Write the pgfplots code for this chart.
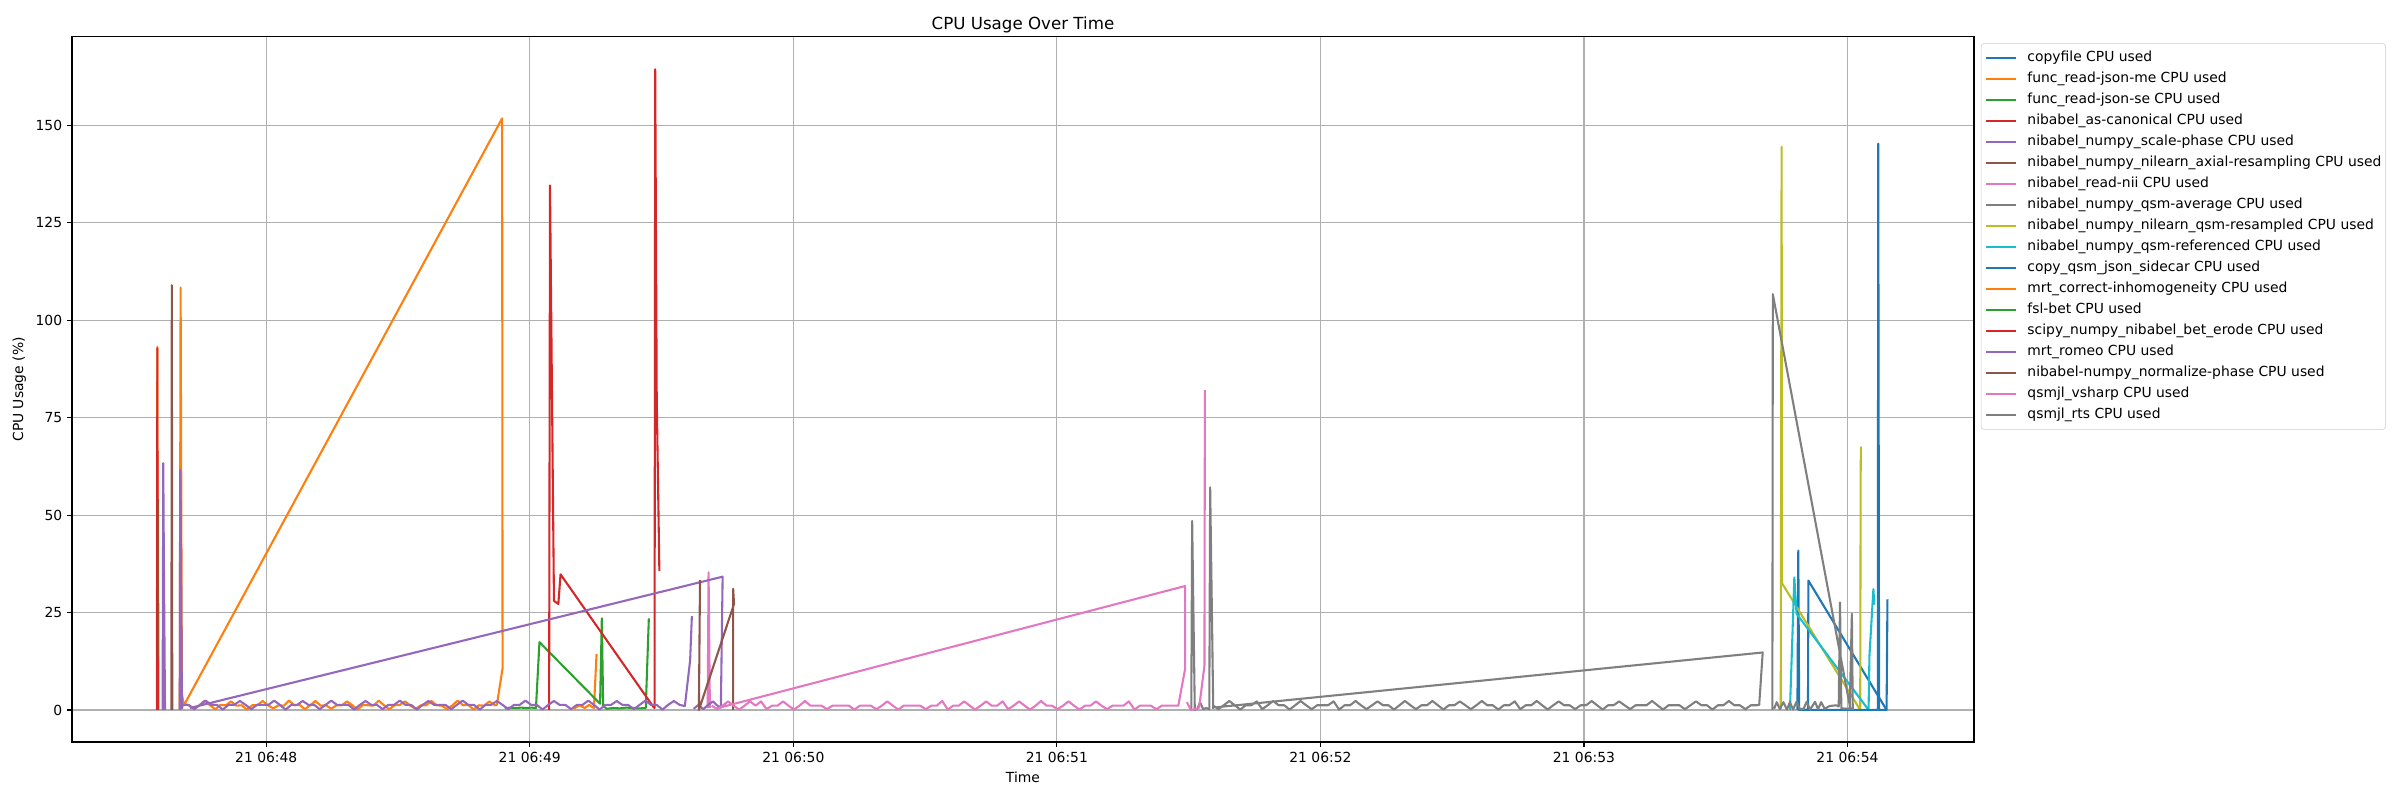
\documentclass[border=0pt]{standalone}
\usepackage{fontspec}
\setmainfont{DejaVu Sans}
\usepackage{pgfplots}
\pgfplotsset{compat=1.18}

\definecolor{C0}{HTML}{1F77B4}
\definecolor{C1}{HTML}{FF7F0E}
\definecolor{C2}{HTML}{2CA02C}
\definecolor{C3}{HTML}{D62728}
\definecolor{C4}{HTML}{9467BD}
\definecolor{C5}{HTML}{8C564B}
\definecolor{C6}{HTML}{E377C2}
\definecolor{C7}{HTML}{7F7F7F}
\definecolor{C8}{HTML}{BCBD22}
\definecolor{C9}{HTML}{17BECF}
\definecolor{gridgray}{HTML}{B0B0B0}
\definecolor{legendgray}{HTML}{CCCCCC}

\begin{document}
\begin{tikzpicture}
\path[use as bounding box] (-51.8pt,-41.5pt) rectangle (1676.1pt,534.2pt);
\begin{axis}[
    at={(0,0)}, anchor=south west,
    scale only axis, width=1369.4pt, height=507.6pt,
    xmin=15.76, xmax=448.8, ymin=-8.22, ymax=172.7,
    xtick={60,120,180,240,300,360,420},
    xticklabels={21 06:48,21 06:49,21 06:50,21 06:51,21 06:52,21 06:53,21 06:54},
    ytick={0,25,50,75,100,125,150},
    grid=major,
    major grid style={color=gridgray, line width=0.8pt},
    axis line style={line width=0.8pt},
    tick align=outside, xtick pos=left, ytick pos=left,
    major tick length=3.5pt,
    tick style={black, line width=0.8pt},
    tick label style={font=\fontsize{10}{12}\selectfont},
    /pgf/number format/assume math mode=true,
    title={CPU Usage Over Time},
    title style={font=\fontsize{12}{14}\selectfont, yshift=-6.5pt},
    xlabel={Time}, ylabel={CPU Usage (\%)},
    label style={font=\fontsize{10}{12}\selectfont},
    unbounded coords=jump,
    every axis plot/.append style={line width=1.5pt, line join=round},
    legend style={at={(1,1)}, anchor=north west, xshift=5pt, yshift=-4.6pt,
        draw=legendgray, rounded corners=2pt, fill=white,
        font=\fontsize{10}{12}\selectfont, inner xsep=3pt, inner ysep=5.5pt,
        row sep=5.1pt, column sep=7.2pt,
        nodes={inner sep=0pt, text height=7.5pt, text depth=2.5pt}},
    legend cell align=left,
    legend image code/.code={\draw[#1, line width=1.5pt] (0pt,0pt) -- (21.6pt,0pt);},
]
% copyfile
\addplot[C0] table[row sep=\\]{x y\\ 408.6 0\\ 408.8 40.9\\ 409.0 0\\ 411.0 0\\ 411.1 33.2\\ 428.9 0\\};
% func_read-json-me
\addplot[C1] table[row sep=\\]{x y\\ 35.1 0\\ 35.2 93.2\\ 35.3 0\\};
% func_read-json-se
\addplot[C2] table[row sep=\\]{x y\\ 35.2 0\\ 35.35 54\\ 35.45 0\\};
% nibabel_as-canonical
\addplot[C3] table[row sep=\\]{x y\\ 35.15 0\\ 35.2 92.8\\ 35.3 0\\};
% nibabel_numpy_scale-phase
\addplot[C4] table[row sep=\\]{x y\\ 36.4 0\\ 36.55 63.3\\ 36.7 37\\ 36.8 22\\ 36.95 0\\};
% nibabel_numpy_nilearn_axial-resampling
\addplot[C5] table[row sep=\\]{x y\\ 38.4 0\\ 38.5 109\\ 38.6 0\\};
% nibabel_read-nii
\addplot[C6] table[row sep=\\]{x y\\ 160.5 0.5\\ 160.7 35.3\\ 161.0 0.5\\};
% nibabel_numpy_qsm-average
\addplot[C7] table[row sep=\\]{x y\\ 270.6 0\\ 270.8 48.5\\ 271.4 0\\ 272.0 0.3\\ 272.6 2.0\\ 273.3 0.2\\ 274.0 0.5\\ 274.7 0.2\\ 274.9 57.1\\ 275.6 0.3\\};
% nibabel_numpy_nilearn_qsm-resampled
\addplot[C8] table[row sep=\\]{x y\\ 404.8 0\\ 405.0 144.5\\ 405.1 32.5\\ 422.9 0\\ 423.0 60\\ 423.05 67.6\\};
% nibabel_numpy_qsm-referenced
\addplot[C9] table[row sep=\\]{x y\\ 406.9 0\\ 407.9 34\\ 408.4 24.7\\ 424.8 0\\ 425.0 13.9\\ 425.9 31\\ 426.1 27\\};
% copy_qsm_json_sidecar
\addplot[C0] table[row sep=\\]{x y\\ 409.0 0\\ 426.9 0\\ 427.0 145.3\\ 427.2 0\\ 428.9 0\\ 429.1 28.4\\};
% mrt_correct-inhomogeneity
\addplot[C1] table[row sep=\\]{x y\\ 40.3 0\\ 40.5 108.4\\ 40.8 4.0\\
41.2 1.5\\ 42.4 1.2\\ 43.6 0.3\\ 44.8 1.2\\ 46.0 2.4\\ 47.2 1.2\\ 48.4 0.2\\ 49.6 1.3\\ 50.8 1.2\\ 52.0 2.2\\
53.2 1.1\\ 54.4 1.2\\ 55.6 0.1\\ 56.8 1.2\\ 58.0 1.3\\ 59.2 2.3\\ 60.4 1.2\\ 61.6 0.4\\ 62.8 1.2\\ 64.0 1.1\\
65.2 2.4\\ 66.4 1.2\\ 67.6 1.3\\ 68.8 0.2\\ 70.0 1.2\\ 71.2 2.3\\ 72.4 1.1\\ 73.6 1.2\\ 74.8 0.3\\ 76.0 1.2\\
77.2 1.2\\ 78.4 2.2\\ 79.6 1.2\\ 80.8 0.1\\ 82.0 1.3\\ 83.2 1.2\\ 84.4 1.1\\ 85.6 2.4\\ 86.8 1.2\\ 88.0 0.2\\
89.2 1.2\\ 90.4 1.3\\ 91.6 2.2\\ 92.8 1.1\\ 94.0 0.3\\ 95.2 1.2\\ 96.4 1.2\\ 97.6 2.3\\ 98.8 1.2\\ 100.0 1.1\\
101.2 0.2\\ 102.4 1.2\\ 103.6 2.4\\ 104.8 1.2\\ 106.0 1.3\\ 107.2 0.1\\ 108.4 1.2\\ 109.6 1.1\\ 110.8 2.2\\ 112.0 1.2\\
112.5 1.3\\ 113.8 10.7\\ 113.7 151.8\\ 41.5 1.7\\
nan nan\\ 130.0 0.3\\ 131.3 1.2\\ 132.5 0.5\\ 133.5 1.3\\ 134.6 0.5\\ 135.2 14.4\\};
% fsl-bet
\addplot[C2] table[row sep=\\]{x y\\ 114.3 0.4\\ 115.5 0.6\\ 116.8 0.5\\ 118.0 0.6\\ 119.2 0.5\\ 120.4 0.6\\ 121.4 0.5\\ 122.2 17.4\\ 136.0 1.6\\ 136.4 23.5\\ 136.7 1.0\\ 137.5 0.3\\ 139.0 0.5\\ 140.5 0.4\\ 142.0 0.6\\ 143.5 0.5\\ 145.0 0.4\\ 146.4 0.5\\ 147.1 23.5\\};
% scipy_numpy_nibabel_bet_erode
\addplot[C3] table[row sep=\\]{x y\\ 124.4 0\\ 124.6 134.6\\ 125.5 28\\ 126.5 27.2\\ 127.0 34.8\\ 148.0 1\\ 148.4 0.5\\ 148.55 164.4\\ 148.9 80\\ 149.5 35.6\\};
% mrt_romeo
\addplot[C4] table[row sep=\\]{x y\\ 40.3 0\\ 40.4 61.6\\ 40.5 57.7\\ 40.8 0.3\\
41.0 1.3\\ 42.3 1.3\\ 43.6 0.2\\ 44.9 1.3\\ 46.2 2.4\\ 47.5 1.3\\ 48.8 1.3\\ 50.1 0.1\\ 51.4 1.3\\ 52.7 1.3\\
54.0 2.3\\ 55.3 1.3\\ 56.6 0.2\\ 57.9 1.3\\ 59.2 1.3\\ 60.5 1.3\\ 61.8 2.4\\ 63.1 1.3\\ 64.4 0.1\\ 65.7 1.3\\
67.0 1.3\\ 68.3 2.3\\ 69.6 1.3\\ 70.9 1.3\\ 72.2 0.2\\ 73.5 1.3\\ 74.8 2.4\\ 76.1 1.3\\ 77.4 1.3\\ 78.7 1.3\\
80.0 0.1\\ 81.3 1.3\\ 82.6 2.3\\ 83.9 1.3\\ 85.2 1.3\\ 86.5 0.2\\ 87.8 1.3\\ 89.1 1.3\\ 90.4 2.4\\ 91.7 1.3\\
93.0 1.3\\ 94.3 0.1\\ 95.6 1.3\\ 96.9 2.3\\ 98.2 1.3\\ 99.5 1.3\\ 100.8 1.3\\ 102.1 0.2\\ 103.4 1.3\\ 104.7 2.4\\
106.0 1.3\\ 107.3 1.3\\ 108.6 0.1\\ 109.9 1.3\\ 111.2 1.3\\ 112.5 2.3\\ 113.8 1.3\\ 115.1 0.2\\ 116.4 1.3\\ 117.7 1.3\\
119.0 2.4\\ 120.3 1.3\\ 121.6 1.3\\ 122.9 0.1\\ 124.2 1.3\\ 125.5 2.3\\ 126.8 1.3\\ 128.1 1.3\\ 129.4 0.2\\ 130.7 1.3\\
132.0 1.3\\ 133.3 2.4\\ 134.6 1.3\\ 135.9 0.1\\ 137.2 1.3\\ 138.5 1.3\\ 139.8 2.3\\ 141.1 1.3\\ 142.4 1.3\\ 143.7 0.2\\
145.0 1.3\\ 146.3 2.4\\ 147.6 1.3\\ 148.9 1.3\\ 150.2 0.1\\ 151.5 1.3\\ 152.8 2.3\\ 154.1 1.3\\ 155.3 1.0\\
156.5 12.7\\ 156.9 24.1\\
nan nan\\ 157.3 0.3\\ 158.4 1.3\\ 159.5 0.2\\ 160.6 1.3\\ 161.7 2.2\\ 162.6 1.2\\ 163.5 0.6\\ 163.9 34.2\\ 42.6 0.5\\};
% nibabel-numpy_normalize-phase
\addplot[C5] table[row sep=\\]{x y\\ 158.75 33.3\\ 158.5 0\\ 166.5 27.2\\ 166.3 31.1\\ 166.3 0\\};
% qsmjl_vsharp
\addplot[C6] table[row sep=\\]{x y\\
161.4 1.1\\ 162.65 0.2\\ 163.9 1.1\\ 165.15 2.2\\ 166.4 1.1\\ 167.65 0.1\\ 168.9 1.1\\ 170.15 2.2\\ 171.4 1.1\\ 172.65 2.2\\
173.9 0.2\\ 175.15 1.1\\ 176.4 1.1\\ 177.65 2.2\\ 178.9 1.1\\ 180.15 0.1\\ 181.4 1.1\\ 182.65 2.3\\ 183.9 1.1\\ 185.15 1.1\\
186.4 1.1\\ 187.65 0.2\\ 188.9 1.1\\ 190.15 1.1\\ 191.4 1.1\\ 192.65 1.1\\ 193.9 0.1\\ 195.15 1.1\\ 196.4 1.1\\ 197.65 1.1\\
198.9 0.2\\ 200.15 1.1\\ 201.4 2.2\\ 202.65 1.1\\ 203.9 0.1\\ 205.15 1.1\\ 206.4 1.1\\ 207.65 1.1\\ 208.9 1.1\\ 210.15 0.2\\
211.4 1.1\\ 212.65 1.1\\ 213.9 2.3\\ 215.15 0.1\\ 216.4 1.1\\ 217.65 1.1\\ 218.9 2.2\\ 220.15 1.1\\ 221.4 0.1\\ 222.65 1.1\\
223.9 2.2\\ 225.15 1.1\\ 226.4 1.1\\ 227.65 2.2\\ 228.9 0.2\\ 230.15 1.1\\ 231.4 2.2\\ 232.65 1.1\\ 233.9 0.1\\ 235.15 1.1\\
236.4 2.3\\ 237.65 1.1\\ 238.9 1.1\\ 240.15 0.2\\ 241.4 1.1\\ 242.65 2.2\\ 243.9 1.1\\ 245.15 0.1\\ 246.4 1.1\\ 247.65 1.1\\
248.9 2.2\\ 250.15 1.1\\ 251.4 0.2\\ 252.65 1.1\\ 253.9 1.1\\ 255.15 1.1\\ 256.4 2.2\\ 257.65 0.1\\ 258.9 1.1\\ 260.15 1.1\\
261.4 1.1\\ 262.65 0.2\\ 263.9 1.1\\ 265.15 1.1\\ 266.4 1.1\\ 267.65 1.1\\
269.2 10.6\\ 269.2 31.8\\ 162.2 0.3\\
nan nan\\ 269.6 2.0\\ 270.5 0\\ 272.0 0.3\\ 272.4 0.7\\ 273.6 11.4\\ 273.7 82.1\\};
% qsmjl_rts
\addplot[C7] table[row sep=\\]{x y\\
275.5 1.2\\ 276.75 0.2\\ 278.0 1.2\\ 279.25 2.3\\ 280.5 1.2\\ 281.75 0.1\\ 283.0 1.2\\ 284.25 1.2\\ 285.5 2.2\\ 286.75 0.2\\
288.0 1.2\\ 289.25 2.3\\ 290.5 1.2\\ 291.75 1.2\\ 293.0 0.1\\ 294.25 1.2\\ 295.5 2.3\\ 296.75 1.2\\ 298.0 0.2\\ 299.25 1.2\\
300.5 1.2\\ 301.75 1.2\\ 303.0 2.2\\ 304.25 0.1\\ 305.5 1.2\\ 306.75 1.2\\ 308.0 2.3\\ 309.25 1.2\\ 310.5 0.2\\ 311.75 1.2\\
313.0 2.2\\ 314.25 1.2\\ 315.5 1.2\\ 316.75 0.1\\ 318.0 1.2\\ 319.25 2.3\\ 320.5 1.2\\ 321.75 0.2\\ 323.0 1.2\\ 324.25 1.2\\
325.5 2.3\\ 326.75 1.2\\ 328.0 0.1\\ 329.25 1.2\\ 330.5 1.2\\ 331.75 2.2\\ 333.0 1.2\\ 334.25 0.2\\ 335.5 1.2\\ 336.75 2.3\\
338.0 1.2\\ 339.25 1.2\\ 340.5 0.1\\ 341.75 1.2\\ 343.0 1.2\\ 344.25 2.2\\ 345.5 0.2\\ 346.75 1.2\\ 348.0 1.2\\ 349.25 2.3\\
350.5 1.2\\ 351.75 0.1\\ 353.0 1.2\\ 354.25 2.2\\ 355.5 1.2\\ 356.75 1.2\\ 358.0 0.2\\ 359.25 1.2\\ 360.5 1.2\\ 361.75 2.3\\
363.0 1.2\\ 364.25 0.1\\ 365.5 1.2\\ 366.75 1.2\\ 368.0 2.2\\ 369.25 1.2\\ 370.5 0.2\\ 371.75 1.2\\ 373.0 1.2\\ 374.25 1.2\\
375.5 2.3\\ 376.75 1.2\\ 378.0 0.1\\ 379.25 1.2\\ 380.5 1.2\\ 381.75 1.2\\ 383.0 0.2\\ 384.25 1.2\\ 385.5 2.2\\ 386.75 1.2\\
388.0 1.2\\ 389.25 0.1\\ 390.5 1.2\\ 391.75 1.2\\ 393.0 2.3\\ 394.25 1.2\\ 395.5 1.2\\ 396.75 0.2\\ 398.0 1.2\\ 399.25 1.2\\
399.9 1.3\\ 400.7 14.75\\ 276.4 0.7\\
nan nan\\ 402.9 0\\ 403.0 106.7\\ 420.7 0\\
nan nan\\ 403.3 0.3\\ 403.9 2.0\\ 404.6 0.2\\ 405.4 2.0\\ 406.2 0.1\\ 406.9 2.0\\ 407.6 0.1\\ 408.4 2.1\\ 409.2 0.2\\ 410.0 0.3\\
410.7 2.1\\ 411.5 0.1\\ 412.6 2.1\\ 413.3 0.2\\ 414.0 2.0\\ 414.8 0.3\\ 415.9 1.0\\ 417.4 1.2\\ 418.0 0.9\\ 418.3 27.6\\
418.6 0.4\\ 420.5 0.3\\ 421.0 24.7\\ 421.2 0\\};
\legend{copyfile CPU used,
func\_read-json-me CPU used,
func\_read-json-se CPU used,
nibabel\_as-canonical CPU used,
nibabel\_numpy\_scale-phase CPU used,
nibabel\_numpy\_nilearn\_axial-resampling CPU used,
nibabel\_read-nii CPU used,
nibabel\_numpy\_qsm-average CPU used,
nibabel\_numpy\_nilearn\_qsm-resampled CPU used,
nibabel\_numpy\_qsm-referenced CPU used,
copy\_qsm\_json\_sidecar CPU used,
mrt\_correct-inhomogeneity CPU used,
fsl-bet CPU used,
scipy\_numpy\_nibabel\_bet\_erode CPU used,
mrt\_romeo CPU used,
nibabel-numpy\_normalize-phase CPU used,
qsmjl\_vsharp CPU used,
qsmjl\_rts CPU used}
\end{axis}
\end{tikzpicture}
\end{document}
